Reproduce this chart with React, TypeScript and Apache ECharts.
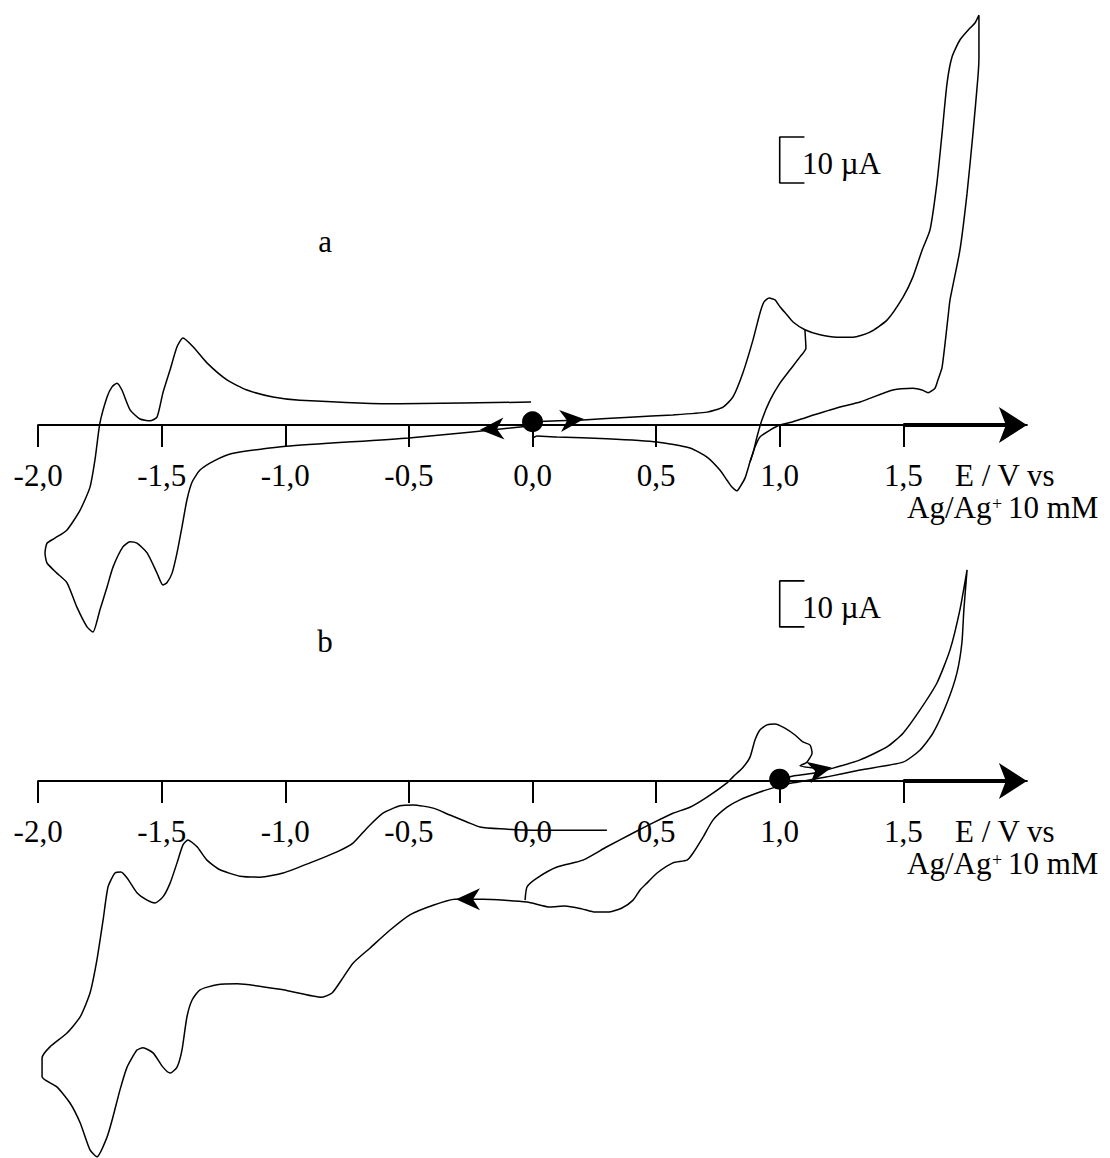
import React, { useEffect, useRef } from "react";
import * as echarts from "echarts";

// Potential ticks (V) and labels
const E_TICKS = [-2, -1.5, -1, -0.5, 0, 0.5, 1, 1.5];

// Panel a: anodic scan 0 -> 1.8 V and back (E in V, I in µA)
const A_ANODIC: [number, number][] = [
  [0.0, 0.7], [0.204, 1.1], [0.394, 1.7], [0.568, 2.2], [0.706, 2.8], [0.771, 3.9],
  [0.811, 6.1], [0.851, 11.3], [0.892, 18.5], [0.92, 24.3], [0.936, 26.7], [0.957, 27.6],
  [0.981, 27.2], [1.001, 25.7], [1.03, 23.9], [1.054, 22.4], [1.102, 20.7], [1.163, 19.6],
  [1.232, 19.1], [1.297, 19.1], [1.365, 20.2], [1.434, 22.8], [1.499, 27.8], [1.539, 32.2],
  [1.576, 38.0], [1.608, 42.4], [1.636, 52.6], [1.657, 63.5], [1.677, 74.3], [1.697, 80.0],
  [1.729, 83.7], [1.77, 86.3], [1.79, 87.4], [1.806, 89.1], [1.806, 80.0], [1.802, 75.7],
  [1.782, 63.5], [1.758, 50.4], [1.729, 38.0], [1.689, 27.2], [1.681, 23.5], [1.657, 12.6],
  [1.64, 9.8], [1.628, 8.0], [1.6, 7.0], [1.576, 7.6], [1.539, 8.0], [1.458, 7.6],
  [1.325, 5.0], [1.244, 3.9], [1.11, 1.7], [1.054, 0.7], [1.001, 0.0], [0.961, -1.1],
  [0.92, -2.6], [0.9, -4.8], [0.88, -8.0], [0.86, -11.5], [0.839, -13.5], [0.827, -14.3],
  [0.807, -13.5], [0.787, -12.0], [0.758, -9.8], [0.706, -7.0], [0.637, -5.0], [0.504, -3.7],
  [0.301, -3.0], [0.099, -2.6], [0.018, -2.4], [0.002, -2.8],
];

// Panel a: reversal at 1.1 V
const A_SWITCH: [number, number][] = [
  [1.102, 20.7], [1.106, 16.7], [1.082, 14.8], [1.042, 12.0], [1.001, 9.1], [0.961, 5.4],
  [0.928, 1.1], [0.908, -2.6], [0.892, -6.1], [0.88, -8.0],
];

// Panel a: cathodic scan 0 -> -2.0 V and back
const A_CATHODIC: [number, number][] = [
  [0.002, 0.2], [-0.01, -0.2], [-0.5, -2.8], [-0.997, -4.6], [-1.216, -6.2], [-1.288, -7.8],
  [-1.345, -9.8], [-1.377, -12.4], [-1.398, -16.3], [-1.418, -22.2], [-1.438, -27.8],
  [-1.458, -32.2], [-1.479, -34.3], [-1.495, -34.8], [-1.519, -32.2], [-1.559, -27.8],
  [-1.6, -25.7], [-1.628, -25.4], [-1.657, -26.5], [-1.697, -30.9], [-1.721, -35.2],
  [-1.75, -40.2], [-1.778, -45.0], [-1.802, -43.9], [-1.843, -39.6], [-1.883, -34.3],
  [-1.924, -32.2], [-1.964, -30.0], [-1.972, -27.8], [-1.964, -25.7], [-1.932, -24.6],
  [-1.883, -22.8], [-1.83, -18.5], [-1.79, -13.5], [-1.77, -7.6], [-1.75, 0.4],
  [-1.721, 6.1], [-1.701, 8.3], [-1.681, 9.1], [-1.661, 7.6], [-1.628, 3.3], [-1.588, 1.3],
  [-1.547, 0.9], [-1.519, 1.7], [-1.495, 7.0], [-1.466, 12.0], [-1.438, 17.0], [-1.414, 18.9],
  [-1.373, 17.0], [-1.317, 13.5], [-1.236, 9.8], [-1.155, 7.6], [-1.05, 6.1], [-0.941, 5.4],
  [-0.536, 4.6], [-0.006, 5.0],
];

// Panel b: main scan from 1.0 V
const B_MAIN: [number, number][] = [
  [0.997, 0.4], [1.054, 1.1], [1.135, 1.7], [1.216, 2.8], [1.325, 4.6], [1.434, 7.4],
  [1.499, 10.4], [1.567, 15.4], [1.636, 21.3], [1.689, 28.5], [1.729, 37.2], [1.758, 45.9],
  [1.745, 37.2], [1.737, 30.0], [1.717, 23.5], [1.677, 17.0], [1.62, 10.4], [1.567, 6.7],
  [1.499, 4.1], [1.325, 2.4], [1.191, 0.9], [1.054, -0.4], [0.973, -1.5], [0.92, -2.4],
  [0.839, -4.1], [0.787, -5.7], [0.73, -8.5], [0.69, -12.2], [0.649, -15.7], [0.625, -17.2],
  [0.568, -17.8], [0.504, -20.0], [0.463, -22.2], [0.435, -23.7], [0.407, -25.9],
  [0.362, -27.6], [0.305, -28.5], [0.253, -28.5], [0.2, -27.8], [0.131, -27.2], [0.071, -27.4],
  [-0.022, -26.3], [-0.2, -25.7], [-0.314, -25.7], [-0.402, -27.0], [-0.496, -29.1],
  [-0.576, -32.4], [-0.657, -36.3], [-0.726, -39.6], [-0.767, -42.8], [-0.811, -46.1],
  [-0.852, -47.0], [-1.009, -45.4], [-1.195, -44.1], [-1.276, -44.3], [-1.345, -45.4],
  [-1.377, -47.6], [-1.398, -51.3], [-1.418, -58.5], [-1.438, -62.2], [-1.466, -63.5],
  [-1.495, -62.2], [-1.535, -59.1], [-1.576, -58.0], [-1.6, -58.5], [-1.64, -62.2],
  [-1.669, -67.2], [-1.697, -73.0], [-1.721, -77.4], [-1.762, -81.7], [-1.79, -80.2],
  [-1.83, -74.3], [-1.871, -70.0], [-1.924, -66.5], [-1.984, -64.3], [-1.984, -60.2],
  [-1.952, -57.8], [-1.883, -54.8], [-1.83, -51.3], [-1.79, -46.1], [-1.762, -38.9],
  [-1.737, -30.2], [-1.717, -23.0], [-1.689, -20.0], [-1.665, -19.8], [-1.64, -21.1],
  [-1.6, -24.3], [-1.559, -25.9], [-1.527, -26.5], [-1.495, -25.2], [-1.466, -22.2],
  [-1.438, -17.8], [-1.414, -13.9], [-1.394, -12.8], [-1.357, -14.3], [-1.317, -17.2],
  [-1.264, -19.3], [-1.183, -20.7], [-1.102, -20.9], [-1.009, -20.0], [-0.9, -17.8],
  [-0.791, -15.4], [-0.726, -13.5], [-0.669, -10.2], [-0.605, -7.0], [-0.536, -5.4],
  [-0.483, -5.2], [-0.402, -5.9], [-0.334, -7.4], [-0.265, -8.9], [-0.212, -10.0],
  [-0.131, -10.4], [0.002, -10.7], [0.14, -10.7], [0.301, -10.7],
];

// Panel b: return branch with the 0.95 V peak and 1.1 V reversal
const B_LOOP: [number, number][] = [
  [-0.03, -25.9], [-0.022, -23.0], [0.018, -21.1], [0.099, -18.7], [0.204, -17.2],
  [0.301, -14.3], [0.407, -11.3], [0.487, -9.1], [0.568, -7.0], [0.637, -5.7], [0.706, -3.5],
  [0.787, -0.4], [0.811, 0.9], [0.852, 3.0], [0.88, 5.2], [0.9, 8.9], [0.92, 11.1],
  [0.949, 12.2], [0.981, 12.4], [1.021, 11.5], [1.062, 10.0], [1.094, 8.5], [1.123, 7.8],
  [1.131, 6.1], [1.11, 4.1], [1.082, 3.3], [1.143, 2.8],
];

// Start points (filled dots)
const A_START: [number, number][] = [[0.0, 0.7]];
const B_START: [number, number][] = [[1.0, 0.4]];

// Direction arrows: [E, I, rotation°]
const A_ARROWS: [number, number, number][] = [[0.16, 1.1, 5], [-0.164, -0.9, 183]];
const B_ARROWS: [number, number, number][] = [[1.163, 2.4, 12], [-0.261, -25.7, 180]];

// 10 µA scale brackets
const A_SCALE: [number, number][] = [[1.1, 62.6], [1.0, 62.6], [1.0, 52.6], [1.1, 52.6]];
const B_SCALE: [number, number][] = [[1.1, 43.5], [1.0, 43.5], [1.0, 33.5], [1.1, 33.5]];

// Heavier axis stretch after 1.5 V
const AXIS_BOLD: [number, number][] = [[1.5, 0], [1.93, 0]];

const FONT = "'Liberation Serif', 'Times New Roman', serif";
const ARROW_PATH = "path://M24,12 L0,0 L7,12 L0,24 Z";

export default function App() {
  const ref = useRef<HTMLDivElement>(null);

  useEffect(() => {
    const chart = echarts.init(ref.current as HTMLDivElement, null, { renderer: "svg" });

    const xAxis = (gi: number, offset: number) => ({
      type: "value",
      gridIndex: gi,
      min: -2,
      max: 2,
      position: "bottom",
      offset,
      axisLine: {
        show: true,
        onZero: false,
        symbol: ["none", "arrow"],
        symbolSize: [27, 28],
        lineStyle: { color: "#000", width: 2 },
      },
      axisTick: {
        show: true,
        customValues: E_TICKS,
        length: 22,
        lineStyle: { color: "#000", width: 2 },
      },
      axisLabel: {
        show: true,
        customValues: E_TICKS,
        formatter: (v: number) => v.toFixed(1).replace(".", ","),
        fontFamily: FONT,
        fontSize: 31,
        color: "#000",
        verticalAlign: "middle",
        margin: 50,
      },
      splitLine: { show: false },
    });

    const yAxis = (gi: number, min: number, max: number) => ({
      type: "value",
      gridIndex: gi,
      min,
      max,
      show: false,
      splitLine: { show: false },
    });

    const curve = (gi: number, data: [number, number][]) => ({
      type: "line",
      xAxisIndex: gi,
      yAxisIndex: gi,
      data,
      showSymbol: false,
      symbol: "none",
      smooth: 0.2,
      clip: false,
      lineStyle: { color: "#000", width: 1.5 },
      silent: true,
      z: 3,
    });

    const bracket = (gi: number, data: [number, number][], width: number) => ({
      type: "line",
      xAxisIndex: gi,
      yAxisIndex: gi,
      data,
      showSymbol: false,
      symbol: "none",
      clip: false,
      lineStyle: { color: "#000", width },
      silent: true,
      z: 3,
    });

    const dot = (gi: number, data: [number, number][]) => ({
      type: "scatter",
      xAxisIndex: gi,
      yAxisIndex: gi,
      data,
      symbol: "circle",
      symbolSize: 21,
      itemStyle: { color: "#000", opacity: 1 },
      silent: true,
      z: 5,
    });

    const arrows = (gi: number, data: [number, number, number][]) =>
      data.map((a) => ({
        type: "scatter",
        xAxisIndex: gi,
        yAxisIndex: gi,
        data: [[a[0], a[1]]],
        symbol: ARROW_PATH,
        symbolSize: [24, 22],
        symbolRotate: a[2],
        itemStyle: { color: "#000", opacity: 1 },
        silent: true,
        z: 5,
      }));

    const txt = (text: string, x: number, y: number, size = 31, align = "left") => ({
      type: "text",
      x,
      y,
      silent: true,
      style: {
        text,
        fill: "#000",
        font: `${size}px ${FONT}`,
        align,
        verticalAlign: "middle",
      },
    });

    // grid a: zero current at y = 425; grid b: zero current at y = 781
    const option = {
      animation: false,
      backgroundColor: "#fff",
      grid: [
        { left: 38.1, width: 988.8, top: 11, height: 644, containLabel: false, outerBoundsMode: "none" },
        { left: 38.1, width: 988.8, top: 551, height: 607.2, containLabel: false, outerBoundsMode: "none" },
      ],
      xAxis: [xAxis(0, -230), xAxis(1, -377.2)],
      yAxis: [yAxis(0, -50, 90), yAxis(1, -82, 50)],
      series: [
        curve(0, A_ANODIC),
        curve(0, A_SWITCH),
        curve(0, A_CATHODIC),
        curve(1, B_MAIN),
        curve(1, B_LOOP),
        bracket(0, A_SCALE, 1.6),
        bracket(1, B_SCALE, 1.6),
        bracket(0, AXIS_BOLD, 4),
        bracket(1, AXIS_BOLD, 4),
        dot(0, A_START),
        dot(1, B_START),
        ...arrows(0, A_ARROWS),
        ...arrows(1, B_ARROWS),
      ],
      graphic: [
        txt("a", 325, 241, 31, "center"),
        txt("b", 325, 641, 31, "center"),
        txt("10 \u00b5A", 802, 163),
        txt("10 \u00b5A", 802, 607),
        txt("E / V vs", 955, 475),
        txt("E / V vs", 955, 831),
        txt("Ag/Ag", 907, 507),
        txt("+", 992, 504, 18),
        txt("10 mM", 1008, 507),
        txt("Ag/Ag", 907, 863),
        txt("+", 992, 860, 18),
        txt("10 mM", 1008, 863),
      ],
    };

    chart.setOption(option as any);
    return () => {
      chart.dispose();
    };
  }, []);

  return (
    <div
      ref={ref}
      style={{ position: "absolute", left: 0, top: 0, width: 1110, height: 1158, background: "#fff" }}
    />
  );
}
